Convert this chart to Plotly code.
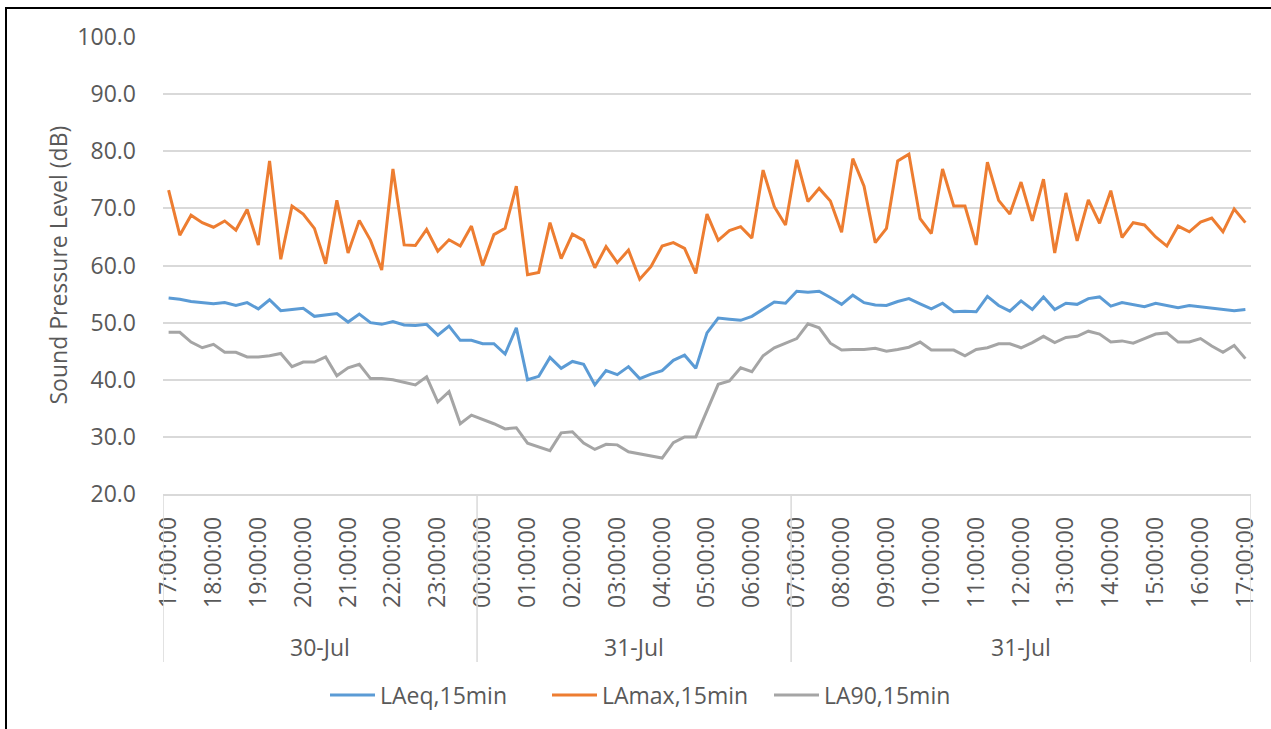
import plotly.graph_objects as go

# 15-minute intervals 30-Jul 17:00 -> 31-Jul 17:00 (97 points)
hour_labels = ["17:00:00", "18:00:00", "19:00:00", "20:00:00", "21:00:00", "22:00:00",
               "23:00:00", "00:00:00", "01:00:00", "02:00:00", "03:00:00", "04:00:00",
               "05:00:00", "06:00:00", "07:00:00", "08:00:00", "09:00:00", "10:00:00",
               "11:00:00", "12:00:00", "13:00:00", "14:00:00", "15:00:00", "16:00:00",
               "17:00:00"]
date_groups = ["30-Jul", "31-Jul", "31-Jul"]
group_sizes = [28, 28, 41]

laeq = [54.3, 54.1, 53.7, 53.5, 53.3, 53.5, 53.0, 53.5, 52.4, 54.0,
        52.1, 52.3, 52.5, 51.1, 51.4, 51.6, 50.1, 51.5, 50.0, 49.7,
        50.2, 49.6, 49.5, 49.7, 47.8, 49.4, 46.9, 46.9, 46.3, 46.3,
        44.5, 49.1, 40.0, 40.6, 43.9, 42.0, 43.2, 42.7, 39.1, 41.6,
        40.9, 42.3, 40.2, 41.0, 41.6, 43.4, 44.3, 42.0, 48.2, 50.8,
        50.6, 50.4, 51.1, 52.4, 53.6, 53.4, 55.5, 55.3, 55.5, 54.4,
        53.2, 54.8, 53.5, 53.1, 53.0, 53.7, 54.2, 53.3, 52.4, 53.4,
        51.9, 52.0, 51.9, 54.6, 53.0, 52.0, 53.8, 52.3, 54.5, 52.3,
        53.4, 53.2, 54.2, 54.5, 52.9, 53.5, 53.1, 52.8, 53.4, 53.0,
        52.6, 53.0, 52.8, 52.6, 52.3, 52.1, 52.3]

lamax = [73.2, 65.3, 68.8, 67.5, 66.7, 67.8, 66.2, 69.8, 63.6, 78.3,
         61.1, 70.4, 69.0, 66.5, 60.3, 71.4, 62.2, 67.9, 64.4, 59.2,
         76.9, 63.6, 63.5, 66.3, 62.5, 64.5, 63.4, 66.9, 60.0, 65.4,
         66.5, 73.9, 58.4, 58.8, 67.5, 61.2, 65.5, 64.4, 59.6, 63.3,
         60.5, 62.7, 57.6, 59.8, 63.4, 64.0, 63.0, 58.6, 69.0, 64.4,
         66.1, 66.8, 64.8, 76.7, 70.3, 67.1, 78.5, 71.2, 73.5, 71.3,
         65.8, 78.7, 73.9, 64.0, 66.5, 78.3, 79.5, 68.2, 65.6, 76.9,
         70.4, 70.4, 63.6, 78.1, 71.4, 69.0, 74.6, 67.8, 75.1, 62.2,
         72.7, 64.3, 71.5, 67.4, 73.1, 64.9, 67.5, 67.1, 65.0, 63.4,
         66.9, 65.9, 67.6, 68.3, 65.9, 69.9, 67.5]

la90 = [48.3, 48.3, 46.6, 45.6, 46.2, 44.8, 44.8, 44.0, 44.0, 44.2,
        44.6, 42.3, 43.1, 43.1, 44.0, 40.7, 42.1, 42.7, 40.2, 40.2,
        40.0, 39.5, 39.1, 40.5, 36.1, 37.9, 32.3, 33.8, 33.1, 32.3,
        31.4, 31.6, 28.9, 28.2, 27.6, 30.7, 30.9, 28.9, 27.8, 28.7,
        28.6, 27.4, 27.0, 26.7, 26.3, 29.0, 30.0, 30.0, 34.7, 39.2,
        39.8, 42.1, 41.4, 44.2, 45.6, 46.4, 47.2, 49.8, 49.1, 46.4,
        45.2, 45.3, 45.3, 45.5, 45.0, 45.3, 45.7, 46.6, 45.2, 45.2,
        45.2, 44.2, 45.3, 45.6, 46.3, 46.3, 45.6, 46.5, 47.6, 46.5,
        47.4, 47.6, 48.5, 48.0, 46.6, 46.8, 46.4, 47.2, 48.0, 48.2,
        46.6, 46.6, 47.2, 45.9, 44.8, 46.0, 43.7]

y_ticks = [20, 30, 40, 50, 60, 70, 80, 90, 100]

FONT = "Open Sans"
TXT = "#595959"
GRID = "#d9d9d9"
FS = 23

idx = list(range(len(laeq)))
series = [("LAeq,15min", laeq, "#5B9BD5"),
          ("LAmax,15min", lamax, "#ED7D31"),
          ("LA90,15min", la90, "#A5A5A5")]

fig = go.Figure()
for name, vals, col in series:
    fig.add_trace(go.Scatter(x=idx, y=vals, mode="lines", name=name,
                             line=dict(color=col, width=3)))

W, H = 1271, 729
L, R, T, B = 163, 20, 37, 235
pw, ph = W - L - R, H - T - B

fig.update_layout(
    width=W, height=H,
    margin=dict(l=L, r=R, t=T, b=B),
    paper_bgcolor="white", plot_bgcolor="white",
    font=dict(family=FONT, size=FS, color=TXT),
    showlegend=True,
    legend=dict(orientation="h", x=(658 - L) / pw, xanchor="center",
                y=(T + ph - 695) / ph, yanchor="middle",
                font=dict(size=FS, color=TXT), itemwidth=45,
                entrywidth=162, entrywidthmode="pixels",
                tracegroupgap=0),
    xaxis=dict(range=[-0.5, len(idx) - 0.5],
               tickmode="array",
               tickvals=[i * 4 for i in range(len(hour_labels))],
               ticktext=hour_labels, tickangle=-90,
               showgrid=False, zeroline=False,
               showline=True, linecolor=GRID, linewidth=1.5,
               ticks="", ticklabelstandoff=12,
               tickfont=dict(size=FS, color=TXT)),
    yaxis=dict(range=[20, 100], tickmode="array", tickvals=y_ticks,
               ticktext=[f"{v:.1f}" for v in y_ticks],
               showgrid=True, gridcolor=GRID, gridwidth=1.5,
               zeroline=False, ticks="", ticklabelstandoff=26,
               tickfont=dict(size=FS, color=TXT)),
)

# category group separators and labels
shapes = []
annotations = []
bounds = [-0.5]
for s in group_sizes:
    bounds.append(bounds[-1] + s)
sep_bottom = -(662 - (T + ph)) / ph
for b in bounds:
    shapes.append(dict(type="line", xref="x", yref="paper", x0=b, x1=b,
                       y0=0, y1=sep_bottom, line=dict(color=GRID, width=1.5)))
for g, a, b in zip(date_groups, bounds[:-1], bounds[1:]):
    annotations.append(dict(text=g, xref="x", yref="paper", x=(a + b) / 2,
                            y=-(647 - (T + ph)) / ph, showarrow=False,
                            xanchor="center", yanchor="middle",
                            font=dict(size=FS, color=TXT, family=FONT)))

# y-axis title
annotations.append(dict(text="Sound Pressure Level (dB)", xref="paper", yref="paper",
                        x=(57 - L) / pw, y=0.5, textangle=-90, showarrow=False,
                        xanchor="center", yanchor="middle",
                        font=dict(size=23, color=TXT, family=FONT)))

# outer frame
shapes.append(dict(type="rect", xref="paper", yref="paper",
                   x0=(6 - L) / pw, x1=(1285 - L) / pw,
                   y0=(T + ph - 745) / ph, y1=(T + ph - 8) / ph,
                   line=dict(color="black", width=2), fillcolor="rgba(0,0,0,0)",
                   layer="below"))

fig.update_layout(shapes=shapes, annotations=annotations)
fig.write_html("out.html", config={"displayModeBar": False},
               post_script="document.body.style.margin='0';")
